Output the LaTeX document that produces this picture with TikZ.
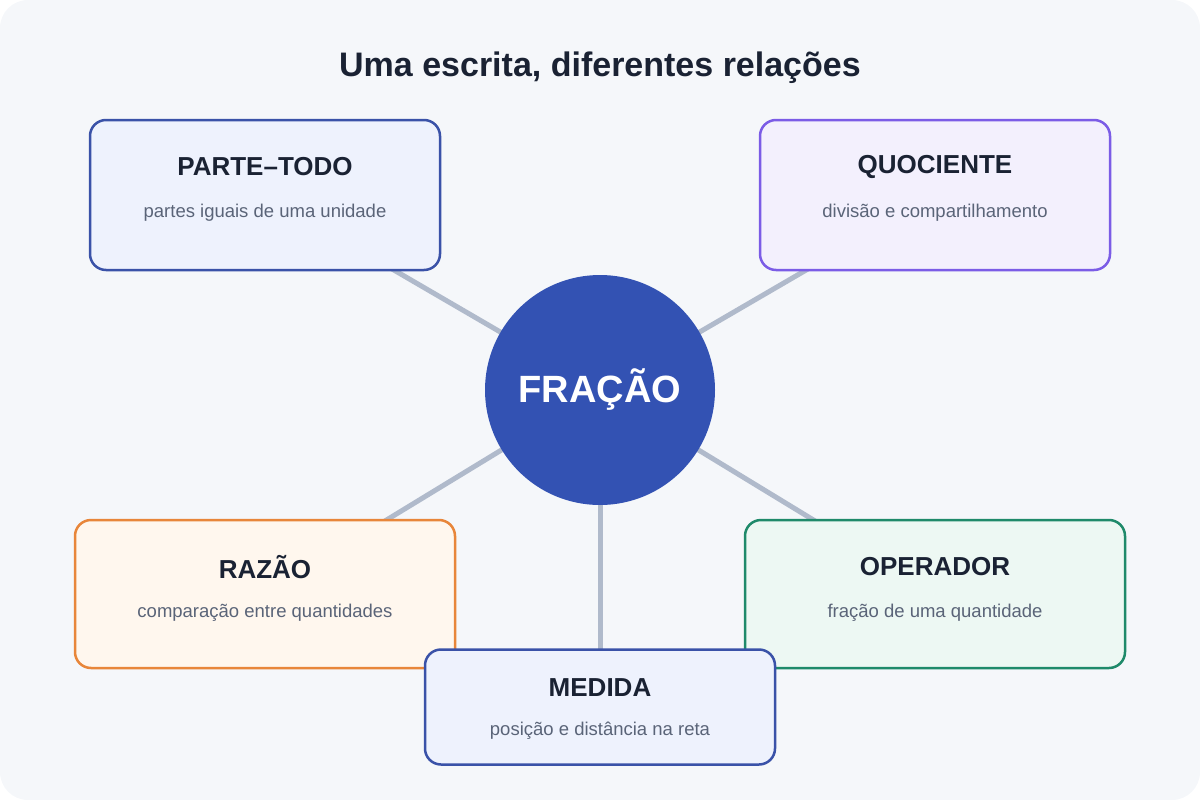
\documentclass[tikz,border=0pt]{standalone}
\usepackage{fontspec}
\setmainfont{Liberation Sans}
\definecolor{bg}{HTML}{F5F7FA}
\definecolor{ln}{HTML}{B0BACB}
\definecolor{tt}{HTML}{1A2233}
\definecolor{st}{HTML}{5A6478}
\definecolor{bl}{HTML}{3A52A8}
\definecolor{blf}{HTML}{EEF2FD}
\definecolor{pu}{HTML}{7B5CE6}
\definecolor{puf}{HTML}{F3F0FD}
\definecolor{or}{HTML}{E8863A}
\definecolor{orf}{HTML}{FFF7EE}
\definecolor{gr}{HTML}{1F8A6A}
\definecolor{grf}{HTML}{EDF8F3}
\definecolor{ci}{HTML}{3352B3}
\begin{document}
\begin{tikzpicture}[x=1pt,y=-1pt,
 box/.style={draw,line width=2.5pt,rounded corners=16pt,minimum width=#1,align=center,inner sep=0pt},
 ttl/.style={font=\bfseries\fontsize{26}{30}\selectfont,text=tt},
 sub/.style={font=\fontsize{18.5}{22}\selectfont,text=st},
 con/.style={ln,line width=5pt}]
\useasboundingbox (0,0) rectangle (1200,800);
\fill[bg,rounded corners=28pt] (0,0) rectangle (1200,800);
\node[font=\bfseries\fontsize{34}{40}\selectfont,text=tt] (title) at (600,68) {Uma escrita, diferentes relações};
\coordinate (cc) at (600,390);
\coordinate (p1) at (265,195);
\coordinate (p2) at (935,195);
\coordinate (p3) at (265,594);
\coordinate (p4) at (935,594);
\coordinate (p5) at (600,707);
\foreach \p in {p1,p2,p3,p4,p5} \draw[con] (cc) -- (\p);
\node[box=350pt,minimum height=150pt,draw=bl,fill=blf] at (p1) (b1) {};
\node[box=350pt,minimum height=150pt,draw=pu,fill=puf] at (p2) (b2) {};
\node[box=380pt,minimum height=148pt,draw=or,fill=orf] at (p3) (b3) {};
\node[box=380pt,minimum height=148pt,draw=gr,fill=grf] at (p4) (b4) {};
\node[box=350pt,minimum height=115pt,draw=bl,fill=blf] at (p5) (b5) {};
\node[ttl] (t1) at (265,167) {PARTE–TODO};
\node[sub] (s1) at (265,213) {partes iguais de uma unidade};
\node[ttl] (t2) at (935,167) {QUOCIENTE};
\node[sub] (s2) at (935,213) {divisão e compartilhamento};
\node[ttl] (t3) at (265,567) {RAZÃO};
\node[sub] (s3) at (265,613) {comparação entre quantidades};
\node[ttl] (t4) at (935,567) {OPERADOR};
\node[sub] (s4) at (935,613) {fração de uma quantidade};
\node[ttl] (t5) at (600,688) {MEDIDA};
\node[sub] (s5) at (600,731) {posição e distância na reta};
\node[circle,fill=ci,minimum size=230pt,inner sep=0pt,text=white,font=\bfseries\fontsize{38}{44}\selectfont] (c) at (cc) {FRAÇÃO};
\end{tikzpicture}
\end{document}
